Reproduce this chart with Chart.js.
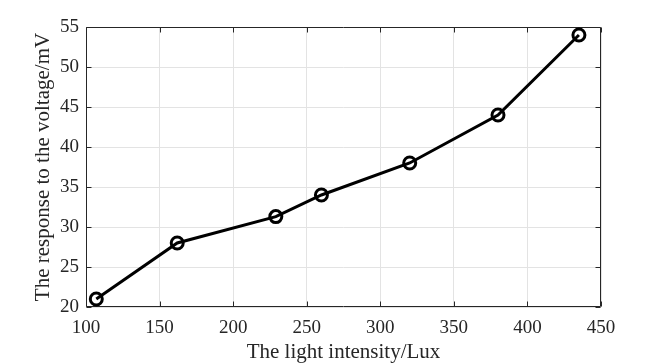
<!DOCTYPE html>
<html>
<head>
<meta charset="utf-8">
<script src="https://cdn.jsdelivr.net/npm/chart.js@4.4.0/dist/chart.umd.min.js"></script>
<style>
  html, body { margin: 0; padding: 0; background: #fff; }
</style>
</head>
<body>
<canvas id="myChart" width="664" height="364"></canvas>
<script>
var lightIntensity = [107, 162, 229, 260, 320, 380, 435];
var voltageResponse = [21, 28, 31.3, 34, 38, 44, 54];
var xTicks = [100, 150, 200, 250, 300, 350, 400, 450];
var yTicks = [20, 25, 30, 35, 40, 45, 50, 55];

var points = lightIntensity.map(function (x, i) {
  return { x: x, y: voltageResponse[i] };
});

// box round the plot with inward ticks on all four sides
var boxPlugin = {
  id: "box",
  beforeDatasetsDraw: function (chart) {
    var ctx = chart.ctx;
    var a = chart.chartArea;
    var sx = chart.scales.x, sy = chart.scales.y;
    var l = Math.round(a.left) + 0.5, r = Math.round(a.right) - 0.5;
    var t = Math.round(a.top) + 0.5, b = Math.round(a.bottom) - 0.5;
    var len = 5;
    ctx.save();
    ctx.strokeStyle = "#262626";
    ctx.lineWidth = 1;
    ctx.beginPath();
    ctx.rect(l, t, r - l, b - t);
    xTicks.forEach(function (v) {
      var px = Math.round(sx.getPixelForValue(v)) + 0.5;
      ctx.moveTo(px, b); ctx.lineTo(px, b - len);
      ctx.moveTo(px, t); ctx.lineTo(px, t + len);
    });
    yTicks.forEach(function (v) {
      var py = Math.round(sy.getPixelForValue(v)) + 0.5;
      ctx.moveTo(l, py); ctx.lineTo(l + len, py);
      ctx.moveTo(r, py); ctx.lineTo(r - len, py);
    });
    ctx.stroke();
    ctx.restore();
  }
};

var ctx = document.getElementById("myChart").getContext("2d");
var myChart = new Chart(ctx, {
  type: "line",
  data: {
    datasets: [
      {
        data: points,
        borderColor: "#000",
        borderWidth: 3,
        pointRadius: 6,
        pointBorderWidth: 3,
        pointBackgroundColor: "rgba(0,0,0,0)",
        pointBorderColor: "#000",
        tension: 0,
        clip: false
      }
    ]
  },
  options: {
    responsive: false,
    animation: false,
    devicePixelRatio: 1,
    layout: { padding: { left: 0, top: 27, right: 63, bottom: 0 } },
    plugins: { legend: { display: false }, tooltip: { enabled: false } },
    scales: {
      x: {
        type: "linear",
        min: 100,
        max: 450,
        afterBuildTicks: function (scale) {
          scale.ticks = xTicks.map(function (v) { return { value: v }; });
        },
        afterFit: function (scale) { scale.height = 57; },
        grid: { color: "#e3e3e3", drawTicks: false },
        border: { display: false },
        ticks: {
          padding: 10,
          color: "#262626",
          maxRotation: 0,
          font: { family: "Liberation Serif", size: 19 }
        },
        title: {
          display: true,
          text: "The light intensity/Lux",
          color: "#262626",
          padding: { top: 0, bottom: 1 },
          font: { family: "Liberation Serif", size: 21, lineHeight: 1 }
        }
      },
      y: {
        type: "linear",
        min: 20,
        max: 55,
        afterBuildTicks: function (scale) {
          scale.ticks = yTicks.map(function (v) { return { value: v }; });
        },
        afterFit: function (scale) { scale.width = 86; },
        grid: { color: "#e3e3e3", drawTicks: false },
        border: { display: false },
        ticks: {
          padding: 7,
          color: "#262626",
          font: { family: "Liberation Serif", size: 19 }
        },
        title: {
          display: true,
          text: "The response to the voltage/mV",
          color: "#262626",
          padding: { top: 33, bottom: 0 },
          font: { family: "Liberation Serif", size: 21, lineHeight: 1 }
        }
      }
    }
  },
  plugins: [boxPlugin]
});
</script>
</body>
</html>
